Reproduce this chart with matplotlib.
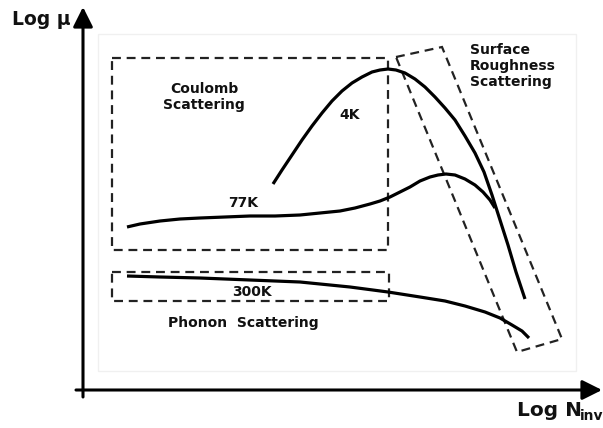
import matplotlib.pyplot as plt
from matplotlib.patches import Polygon, Rectangle

# curves (x = log N, y = log mu, picture units, y grows downward)
x_4k = [273, 282, 292, 302, 312, 322, 332, 342, 352, 362, 372, 380, 388, 396, 405,
        415, 425, 435, 445, 455, 465, 475, 484, 492, 500, 508, 516, 525]
y_4k = [184, 170, 155, 140, 126, 113, 101, 91, 83, 77, 72, 70, 69, 70, 73,
        79, 87, 97, 108, 120, 136, 153, 172, 195, 220, 245, 272, 299]

x_77k = [127, 140, 160, 180, 200, 225, 250, 275, 300, 320, 340, 355, 370, 380, 390,
         400, 410, 420, 430, 438, 446, 455, 465, 475, 483, 490, 495]
y_77k = [227, 224, 221, 219, 218, 217, 216, 216, 215, 213, 211, 208, 204, 201, 197,
         192, 187, 181, 177, 175, 174, 175, 179, 185, 192, 200, 208]

x_300k = [127, 160, 200, 250, 300, 350, 388, 420, 445, 465, 485, 500, 512, 522, 529]
y_300k = [276, 277, 278, 280, 282, 287, 292, 297, 301, 306, 312, 318, 325, 331, 338]

# scattering regions
coulomb_box = (112, 58, 276, 192)      # x, y, width, height
phonon_box = (112, 272, 277, 29)
surface_box_x = [396, 442, 562, 517]
surface_box_y = [57, 47, 339, 352]

fig = plt.figure(figsize=(6.03, 4.28), dpi=100)
ax = fig.add_axes([0, 0, 1, 1])
ax.set_xlim(0, 603)
ax.set_ylim(428, 0)
ax.axis('off')

font = dict(family='DejaVu Sans', weight='bold', color='#111111')

# faint scan border
ax.add_patch(Rectangle((98, 34), 478, 337, fill=False, ec='#f0f0f0', lw=1))

# axes with arrows
ax.annotate('', xy=(83, 7), xytext=(83, 397),
            arrowprops=dict(arrowstyle='-|>', lw=2.2, color='black',
                            mutation_scale=30, shrinkA=0, shrinkB=0))
ax.annotate('', xy=(602, 390), xytext=(76, 390),
            arrowprops=dict(arrowstyle='-|>', lw=2.2, color='black',
                            mutation_scale=30, shrinkA=0, shrinkB=0))
ax.text(12, 19, 'Log μ', fontsize=13.5, va='center', ha='left', **font)
ax.text(517, 410, 'Log N', fontsize=14.5, va='center', ha='left', **font)
ax.text(580, 416, 'inv', fontsize=10, va='center', ha='left', **font)

# dashed boxes
dash = dict(fill=False, ec='#222222', lw=1.6, ls=(0, (4, 2.6)))
ax.add_patch(Rectangle(coulomb_box[:2], *coulomb_box[2:], **dash))
ax.add_patch(Rectangle(phonon_box[:2], *phonon_box[2:], **dash))
ax.add_patch(Polygon(list(zip(surface_box_x, surface_box_y)), closed=True, **dash))

# curves
for xs, ys in [(x_4k, y_4k), (x_77k, y_77k), (x_300k, y_300k)]:
    ax.plot(xs, ys, color='black', lw=2.3, solid_capstyle='butt', solid_joinstyle='round')

# labels
ax.text(350, 115, '4K', fontsize=10, ha='center', va='center', **font)
ax.text(243, 203, '77K', fontsize=10, ha='center', va='center', **font)
ax.text(252, 292, '300K', fontsize=10, ha='center', va='center', **font)
ax.text(204, 97, 'Coulomb\nScattering', fontsize=10, ha='center', va='center',
        linespacing=1.15, **font)
ax.text(243, 323, 'Phonon  Scattering', fontsize=10, ha='center', va='center', **font)
ax.text(470, 66, 'Surface\nRoughness\nScattering', fontsize=10, ha='left', va='center',
        linespacing=1.15, **font)

fig.savefig('out.png', dpi=100)
